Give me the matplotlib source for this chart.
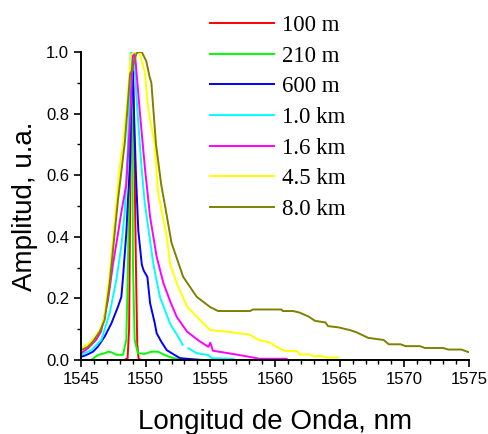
import numpy as np
import matplotlib
matplotlib.use("Agg")
import matplotlib.pyplot as plt
from matplotlib.ticker import MultipleLocator

labels = ["100 m", "210 m", "600 m", "1.0 km", "1.6 km", "4.5 km", "8.0 km"]
colors = ["#ff0000", "#00ff00", "#0000ff", "#00ffff", "#ff00ff", "#ffff00", "#808000"]

x_100m = [1548.35, 1548.6, 1548.72, 1548.8, 1548.88, 1548.95, 1549.05, 1549.15, 1549.25, 1549.35, 1549.45, 1549.6]
y_100m = [0.0, 0.005, 0.1, 0.5, 0.9, 1.0, 0.9, 0.6, 0.3, 0.05, 0.005, 0.0]

x_210m = [1545.8, 1546.3, 1546.83, 1547.1, 1547.35, 1547.73, 1548.25, 1548.5, 1548.63, 1548.72, 1548.88, 1548.95, 1549.02, 1549.15, 1549.4, 1549.93, 1550.44, 1550.95, 1551.47, 1551.98, 1552.5, 1552.9]
y_210m = [0.0, 0.016, 0.022, 0.027, 0.025, 0.017, 0.017, 0.065, 0.30, 0.55, 1.0, 0.9, 0.30, 0.065, 0.022, 0.02, 0.027, 0.027, 0.016, 0.008, 0.003, 0.0]

x_600m = [1545.0, 1545.4, 1545.93, 1546.3, 1546.83, 1547.35, 1547.86, 1548.12, 1548.25, 1548.5, 1548.63, 1548.8, 1548.9, 1549.0, 1549.1, 1549.25, 1549.43, 1549.7, 1549.85, 1550.13, 1550.34, 1550.7, 1550.85, 1551.2, 1551.63, 1552.25, 1552.66, 1553.5, 1554.4]
y_600m = [0.01, 0.016, 0.027, 0.043, 0.076, 0.119, 0.173, 0.205, 0.27, 0.41, 0.52, 0.64, 0.87, 0.936, 0.8, 0.6, 0.42, 0.31, 0.29, 0.27, 0.185, 0.12, 0.087, 0.06, 0.032, 0.016, 0.006, 0.003, 0.0]

x_1km = [1545.0, 1545.8, 1546.57, 1547.22, 1547.73, 1548.12, 1548.38, 1548.63, 1548.84, 1549.1, 1549.36, 1549.67, 1549.93, 1550.08, 1550.6, 1551.1, 1551.9, 1552.66, 1552.86, 1552.87, 1553.25, 1553.3, 1553.95, 1554.85, 1555.1, 1556.8]
y_1km = [0.017, 0.032, 0.065, 0.152, 0.26, 0.37, 0.48, 0.70, 1.0, 0.98, 0.81, 0.63, 0.51, 0.465, 0.31, 0.205, 0.117, 0.065, 0.049, np.nan, np.nan, 0.038, 0.022, 0.016, 0.006, 0.004]

x_16km = [1545.0, 1545.54, 1546.16, 1546.55, 1547.09, 1547.47, 1547.86, 1548.12, 1548.5, 1548.84, 1549.02, 1549.2, 1549.56, 1549.95, 1550.34, 1550.85, 1551.37, 1551.9, 1552.4, 1553.2, 1554.2, 1554.85, 1555.0, 1555.2, 1556.4, 1557.8, 1558.8, 1560.9]
y_16km = [0.022, 0.038, 0.065, 0.092, 0.195, 0.31, 0.41, 0.48, 0.57, 0.81, 1.0, 0.98, 0.80, 0.62, 0.465, 0.335, 0.25, 0.19, 0.14, 0.092, 0.06, 0.043, 0.056, 0.030, 0.022, 0.012, 0.004, 0.004]

x_45km = [1545.0, 1545.5, 1546.0, 1546.5, 1546.8, 1547.2, 1547.6, 1548.0, 1548.25, 1548.6, 1548.85, 1549.1, 1549.5, 1549.93, 1550.18, 1550.7, 1550.95, 1551.63, 1551.9, 1552.4, 1553.2, 1554.2, 1555.0, 1556.3, 1557.3, 1558.0, 1558.8, 1559.6, 1560.1, 1560.8, 1561.7, 1561.9, 1562.7, 1563.0, 1563.5, 1564.0, 1564.9]
y_45km = [0.04, 0.05, 0.07, 0.10, 0.14, 0.27, 0.45, 0.63, 0.70, 0.85, 0.99, 1.0, 1.0, 0.936, 0.82, 0.70, 0.546, 0.40, 0.31, 0.25, 0.173, 0.13, 0.097, 0.092, 0.086, 0.083, 0.064, 0.057, 0.043, 0.029, 0.029, 0.018, 0.018, 0.011, 0.014, 0.008, 0.008]

x_8km = [1545.0, 1545.54, 1545.93, 1546.45, 1546.83, 1547.22, 1547.6, 1547.86, 1548.4, 1548.8, 1548.9, 1549.28, 1549.45, 1549.7, 1550.05, 1550.3, 1550.44, 1550.8, 1551.2, 1551.5, 1552.0, 1552.9, 1553.95, 1554.98, 1555.6, 1558.07, 1558.3, 1560.5, 1560.6, 1561.4, 1561.9, 1562.6, 1563.1, 1563.9, 1564.1, 1564.9, 1565.8, 1566.3, 1567.2, 1568.4, 1568.8, 1569.7, 1570.1, 1571.2, 1571.6, 1573.0, 1573.4, 1574.4, 1575.0]
y_8km = [0.032, 0.043, 0.06, 0.092, 0.13, 0.25, 0.41, 0.52, 0.71, 0.93, 0.936, 0.995, 1.0, 1.0, 0.97, 0.92, 0.90, 0.70, 0.57, 0.50, 0.38, 0.27, 0.205, 0.172, 0.159, 0.159, 0.164, 0.164, 0.159, 0.159, 0.154, 0.141, 0.127, 0.122, 0.11, 0.106, 0.097, 0.09, 0.072, 0.065, 0.051, 0.051, 0.045, 0.045, 0.039, 0.039, 0.034, 0.034, 0.025]

series_x = [x_100m, x_210m, x_600m, x_1km, x_16km, x_45km, x_8km]
series_y = [y_100m, y_210m, y_600m, y_1km, y_16km, y_45km, y_8km]

fig = plt.figure(figsize=(4.88, 4.34), dpi=100)
ax = fig.add_axes([81/488, 1 - 360/434, (469 - 81)/488, (360 - 52)/434])

for xs, ys, c, lab in zip(series_x, series_y, colors, labels):
    ax.plot(xs, ys, color=c, lw=1.4, label=lab)

ax.set_xlim(1545, 1575)
ax.set_ylim(0, 1.0)
ax.xaxis.set_major_locator(MultipleLocator(5))
ax.xaxis.set_minor_locator(MultipleLocator(1))
ax.yaxis.set_major_locator(MultipleLocator(0.2))
ax.yaxis.set_minor_locator(MultipleLocator(0.1))
ax.yaxis.set_major_formatter(matplotlib.ticker.FormatStrFormatter('%.1f'))

for s in ["top", "right"]:
    ax.spines[s].set_visible(False)
for s in ["left", "bottom"]:
    ax.spines[s].set_linewidth(1.4)

tickfont = "Liberation Sans"
ax.tick_params(which="major", direction="out", length=5, width=1.2, labelsize=12)
ax.tick_params(which="minor", direction="out", length=3, width=1.0)
for lbl in ax.get_xticklabels() + ax.get_yticklabels():
    lbl.set_fontfamily(tickfont)

ax.set_xlabel("Longitud de Onda, nm", fontsize=20, fontfamily=tickfont, labelpad=16)
ax.set_ylabel("Amplitud, u.a.", fontsize=20, fontfamily=tickfont, labelpad=6)

leg = ax.legend(loc="upper left", bbox_to_anchor=(210/488, 1 - 15/434), bbox_transform=fig.transFigure,
                frameon=False, prop={"family": "Liberation Serif", "size": 16.5},
                handlelength=2.8, handletextpad=0.35, labelspacing=0.42, borderpad=0, borderaxespad=0)

fig.savefig("out.png", dpi=100)
